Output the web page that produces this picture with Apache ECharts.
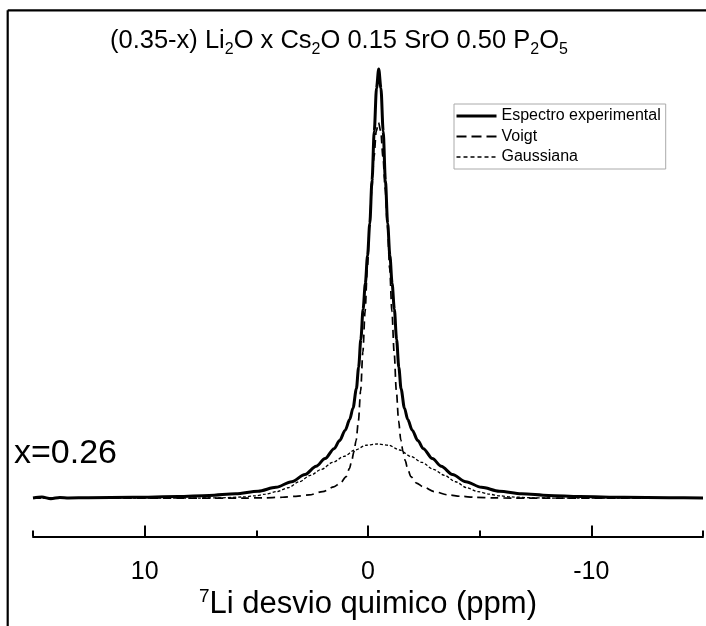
<!DOCTYPE html>
<html><head><meta charset="utf-8">
<script src="https://cdn.jsdelivr.net/npm/echarts@6/dist/echarts.min.js"></script>
<style>html,body{margin:0;padding:0;background:#fff}#c{width:706px;height:626px}</style>
</head><body><div id="c"></div>
<script>
// ---- data ----
const seriesNames = ['Espectro experimental', 'Voigt', 'Gaussiana'];
const xTickValues = [15, 10, 5, 0, -5, -10, -15];
const xMajorTicks = [10, 0, -10];
// [ppm, relative intensity]
const experimental = [
  [15,0],[14.6,0.25],[14.2,-0.15],[13.8,0.15],[13.4,0.02],[12.52,0.08],[10.52,0.18],[8.52,0.35],[7.12,0.6],
  [5.92,1.0],[4.92,1.6],[4.12,2.5],[3.42,3.8],[2.82,5.5],[2.32,7.4],[1.92,9.2],[1.52,11.5],[1.27,13.4],
  [1.02,15.8],[0.82,18.3],[0.67,21],[0.52,25.5],[0.42,30.5],[0.32,37],[0.22,44],[0.12,50],[0.02,56.5],
  [-0.08,64],[-0.18,74],[-0.28,85.5],[-0.38,95.5],[-0.48,100],
  [-0.58,95.5],[-0.68,85.5],[-0.78,74],[-0.88,64],[-0.98,56.5],[-1.08,50],[-1.18,44],[-1.28,37],
  [-1.38,30.5],[-1.48,25.5],[-1.63,21],[-1.78,18.3],[-1.98,15.8],[-2.23,13.4],[-2.48,11.5],[-2.88,9.2],
  [-3.28,7.4],[-3.78,5.5],[-4.38,3.8],[-5.08,2.5],[-5.88,1.6],[-6.88,1.0],[-8.08,0.6],[-9.48,0.35],
  [-11.48,0.18],[-13.48,0.08],[-15,0.02]
];
const voigt = [
  [15,0],[5.53,0],[4.73,0.03],[3.83,0.18],[3.23,0.4],[2.63,0.75],[2.03,1.5],[1.53,2.6],[1.23,3.5],
  [0.98,5.0],[0.83,6.9],[0.73,8.7],[0.63,10.8],[0.53,13.5],[0.43,18],[0.33,25],[0.23,34],[0.13,43.5],
  [0.03,53.5],[-0.07,63.5],[-0.17,72],[-0.27,79.5],[-0.37,85.5],[-0.47,87.5],
  [-0.57,85.5],[-0.67,79.5],[-0.77,72],[-0.87,63.5],[-0.97,53.5],[-1.07,43.5],[-1.17,34],[-1.27,25],
  [-1.37,18],[-1.47,13.5],[-1.57,10.8],[-1.67,8.7],[-1.77,6.9],[-1.92,5.0],[-2.17,3.5],[-2.47,2.6],
  [-2.97,1.5],[-3.57,0.75],[-4.17,0.4],[-4.77,0.18],[-5.67,0.03],[-6.47,0],[-15,0]
];
const gaussiana = [
  [15,0],[7.58,0],[6.58,0.05],[5.58,0.25],[5.08,0.5],[4.58,0.9],[4.08,1.5],[3.58,2.4],[3.08,3.8],
  [2.58,5.3],[2.08,6.7],[1.58,8.3],[1.08,9.7],[0.58,11.2],[0.08,12.3],[-0.42,12.6],
  [-0.92,12.3],[-1.42,11.2],[-1.92,9.7],[-2.42,8.3],[-2.92,6.7],[-3.42,5.3],[-3.92,3.8],[-4.42,2.4],
  [-4.92,1.5],[-5.42,0.9],[-5.92,0.5],[-6.42,0.25],[-7.42,0.05],[-8.42,0],[-15,0]
];
const titleText = '(0.35-x) Li{s|2}O x Cs{s|2}O 0.15 SrO 0.50 P{s|2}O{s|5}';
const sampleLabel = 'x=0.26';
const axisName = '{sup|7}Li desvio quimico (ppm)';

// ---- chart ----
const FONT = 'Liberation Sans, Arial, sans-serif';
const chart = echarts.init(document.getElementById('c'), null, {renderer: 'canvas'});
const axisBase = {
  type: 'value', gridIndex: 0, min: -15, max: 15, inverse: true, position: 'bottom', offset: 17,
  splitLine: {show: false}
};
const lineCommon = {type: 'line', showSymbol: false, symbol: 'none', smooth: 0.3, smoothMonotone: 'x'};
chart.setOption({
  animation: false,
  backgroundColor: '#fff',
  title: {
    text: titleText, left: 110, top: 23, padding: 0,
    textStyle: {
      fontFamily: FONT, fontSize: 25.5, fontWeight: 'normal', color: '#000', lineHeight: 35,
      rich: {s: {fontFamily: FONT, fontSize: 16, verticalAlign: 'bottom', lineHeight: 17, color: '#000'}}
    }
  },
  legend: {
    orient: 'vertical', left: 454, top: 104,
    data: [
      {name: seriesNames[0], lineStyle: {type: 'solid', width: 3}},
      {name: seriesNames[1], lineStyle: {type: [10, 5], width: 2}},
      {name: seriesNames[2], lineStyle: {type: [4, 3], width: 1.4}}
    ],
    padding: [4, 5, 4, 1], itemWidth: 40, itemHeight: 14, itemGap: 4.5,
    borderColor: '#aaa', borderWidth: 1, borderRadius: 0, backgroundColor: '#fff',
    itemStyle: {color: 'rgba(0,0,0,0)', borderColor: 'rgba(0,0,0,0)', borderWidth: 0, opacity: 0},
    textStyle: {fontFamily: FONT, fontSize: 16, color: '#000'}
  },
  grid: {left: 33, right: 3, top: 47.5, bottom: 106.5, containLabel: false},
  xAxis: [
    Object.assign({}, axisBase, {
      axisLine: {show: true, onZero: false, lineStyle: {color: '#000', width: 2}},
      axisTick: {show: true, inside: true, length: 6, customValues: xTickValues, lineStyle: {color: '#000', width: 2}},
      axisLabel: {show: false},
      name: axisName, nameLocation: 'middle', nameGap: 51,
      nameTextStyle: {fontFamily: FONT, fontSize: 31, color: '#000',
        rich: {sup: {fontFamily: FONT, fontSize: 19, verticalAlign: 'top', lineHeight: 34, color: '#000'}}}
    }),
    Object.assign({}, axisBase, {
      axisLine: {show: false, onZero: false},
      axisTick: {show: true, inside: true, length: 11, customValues: xMajorTicks, lineStyle: {color: '#000', width: 2}},
      axisLabel: {show: true, customValues: xMajorTicks, margin: 23, fontFamily: FONT, fontSize: 25, color: '#000'}
    })
  ],
  yAxis: {type: 'value', min: -5, max: 105, show: false},
  graphic: [
    {type: 'line', shape: {x1: 7.7, y1: 10.3, x2: 706, y2: 10.3}, style: {stroke: '#000', lineWidth: 2.2}},
    {type: 'line', shape: {x1: 7.7, y1: 10.3, x2: 7.7, y2: 626}, style: {stroke: '#000', lineWidth: 2.2}},
    {type: 'text', left: 14, top: 437, style: {text: sampleLabel, font: '34px ' + FONT, fill: '#000'}}
  ],
  series: [
    Object.assign({}, lineCommon, {name: seriesNames[2], data: gaussiana, z: 2,
      lineStyle: {color: '#000', width: 1.3, type: [3, 2]}, itemStyle: {color: '#000'}}),
    Object.assign({}, lineCommon, {name: seriesNames[1], data: voigt, z: 3,
      lineStyle: {color: '#000', width: 1.7, type: [8, 5]}, itemStyle: {color: '#000'}}),
    Object.assign({}, lineCommon, {name: seriesNames[0], data: experimental, z: 4,
      lineStyle: {color: '#000', width: 3}, itemStyle: {color: '#000'}})
  ]
});
</script></body></html>
